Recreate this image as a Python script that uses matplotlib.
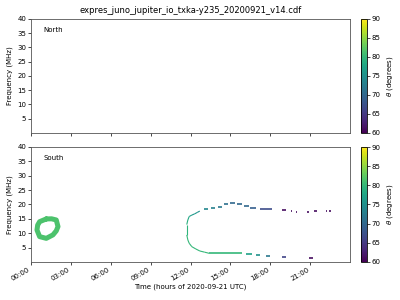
import numpy as np
import matplotlib
matplotlib.use("Agg")
import matplotlib.pyplot as plt
from matplotlib.collections import LineCollection
from matplotlib.colors import Normalize

title = "expres_juno_jupiter_io_txka-y235_20200921_v14.cdf"
xtick_hours = [0, 3, 6, 9, 12, 15, 18, 21]
xtick_labels = ["00:00", "03:00", "06:00", "09:00", "12:00", "15:00", "18:00", "21:00"]
ytick_values = [5, 10, 15, 20, 25, 30, 35, 40]
cbar_ticks = [60, 65, 70, 75, 80, 85, 90]

# Ring-shaped emission near 01:00 (time in hours, frequency in MHz)
ring_t = [1.15, 1.55, 1.9, 2.03, 1.9, 1.65, 1.15, 0.65, 0.45, 0.5, 0.65, 1.15]
ring_f = [14.96, 15.0, 14.6, 12.3, 10.8, 9.4, 8.2, 8.8, 11.1, 12.8, 14.0, 14.96]
ring_theta = 81.5

# Continuous arc (left side), time, freq, theta
arc_t = [13.4, 13.05, 12.7, 12.4, 12.1, 11.9, 11.8, 11.72, 11.72, 11.8, 11.9, 12.1, 12.3, 12.5, 12.7]
arc_f = [3.0, 3.4, 3.8, 4.5, 5.3, 6.5, 7.65, 9.4, 13.0, 14.6, 15.8, 16.3, 16.7, 17.2, 17.7]
arc_theta = [80, 80, 80, 80, 80, 80, 80, 79.5, 79, 78, 77, 76, 76, 75, 75]

# Horizontal emission dashes: start time, end time, frequency, theta
dash_t0 = [13.0, 13.55, 14.05, 14.55, 14.95, 15.5, 16.0, 16.5, 17.2,
           18.85, 19.55, 19.95, 20.75, 21.3, 22.2, 22.45,
           13.4, 16.2, 16.9, 17.7, 18.9, 20.9]
dash_t1 = [13.3, 13.85, 14.35, 14.8, 15.35, 15.9, 16.4, 16.9, 18.15,
           19.2, 19.65, 20.05, 20.95, 21.5, 22.3, 22.55,
           15.9, 16.6, 17.25, 18.0, 19.2, 21.25]
dash_f = [18.4, 18.7, 19.2, 20.0, 20.5, 20.1, 19.3, 18.8, 18.4,
          18.0, 17.6, 17.3, 17.3, 17.6, 17.6, 17.6,
          3.0, 2.8, 2.3, 2.0, 1.6, 1.3]
dash_theta = [74, 73, 72, 71, 70, 70, 70, 69, 67,
              61, 61, 61, 61, 61, 61, 61,
              80, 77, 75, 72, 66, 61]

fs = 5
plt.rcParams['font.size'] = fs
cmap = plt.get_cmap('viridis')
norm = Normalize(vmin=60, vmax=90)

fig = plt.figure(figsize=(4, 3), dpi=100)
ax_n = fig.add_axes([0.0775, 0.557, 0.7975, 0.38])
ax_s = fig.add_axes([0.0775, 0.127, 0.7975, 0.383])
cax_n = fig.add_axes([0.9025, 0.557, 0.015, 0.38])
cax_s = fig.add_axes([0.9025, 0.127, 0.015, 0.383])

for ax, name in [(ax_n, "North"), (ax_s, "South")]:
    ax.set_xlim(0, 24)
    ax.set_ylim(0, 40)
    ax.set_xticks(xtick_hours)
    ax.set_yticks(ytick_values)
    ax.tick_params(labelsize=fs, length=2, width=0.5, pad=1.5)
    for sp in ax.spines.values():
        sp.set_linewidth(0.6)
        sp.set_color('#555555')
    ax.set_ylabel("Frequency (MHz)", fontsize=fs, labelpad=3)
    ax.text(0.04, 0.9, name, transform=ax.transAxes, fontsize=fs, va='center', ha='left')

ax_n.set_xticklabels([])
ax_s.set_xticklabels(xtick_labels, rotation=30, ha='right')
ax_s.set_xlabel("Time (hours of 2020-09-21 UTC)", fontsize=fs, labelpad=1)
ax_n.set_title(title, fontsize=6, pad=4)

# ring
ax_s.plot(ring_t, ring_f, color=cmap(norm(ring_theta)), lw=3.6, solid_joinstyle='round',
          solid_capstyle='round')

# arc
pts = np.column_stack([arc_t, arc_f])
segs = np.stack([pts[:-1], pts[1:]], axis=1)
lc = LineCollection(segs, cmap=cmap, norm=norm, linewidths=0.8)
lc.set_array(np.array(arc_theta[:-1], dtype=float))
ax_s.add_collection(lc)

# dashes
dsegs = [[(a, f), (b, f)] for a, b, f in zip(dash_t0, dash_t1, dash_f)]
dc = LineCollection(dsegs, cmap=cmap, norm=norm, linewidths=1.2)
dc.set_array(np.array(dash_theta, dtype=float))
ax_s.add_collection(dc)

sm = matplotlib.cm.ScalarMappable(norm=norm, cmap=cmap)
for cax in (cax_n, cax_s):
    cb = fig.colorbar(sm, cax=cax, ticks=cbar_ticks)
    cb.ax.tick_params(labelsize=fs, length=2, width=0.5, pad=1.5)
    cb.outline.set_linewidth(0.6)
    cb.set_label(r"$\theta$ (degrees)", fontsize=fs, labelpad=3)

fig.savefig("out.png", dpi=100)
